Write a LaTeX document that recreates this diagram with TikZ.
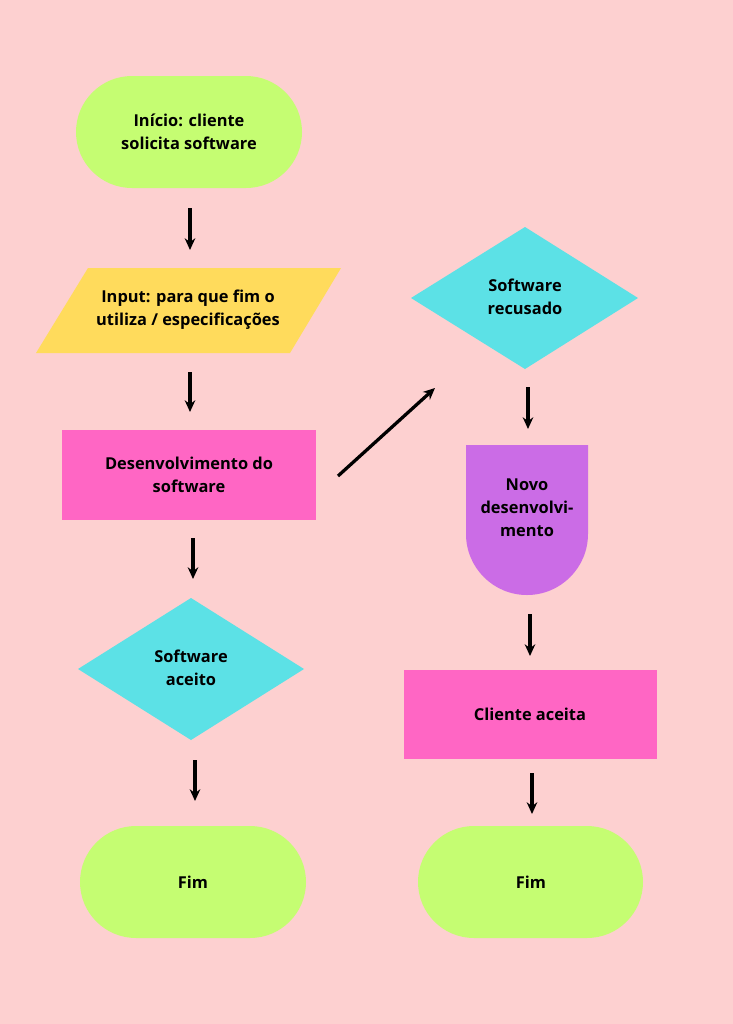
\documentclass[tikz,border=0pt]{standalone}
\usepackage{fontspec}
\setmainfont{Open Sans}
\usetikzlibrary{arrows.meta}
\begin{document}
\begin{tikzpicture}[x=0.03cm,y=-0.03cm,
  lbl/.style={font=\fontsize{14}{19.5}\selectfont\bfseries,align=center,text=black},
  arr/.style={-{Stealth[length=10pt,width=9pt]},line width=2.8pt}]
\definecolor{bg}{HTML}{FDD0D0}
\definecolor{grn}{HTML}{C5FD72}
\definecolor{yel}{HTML}{FFDB5C}
\definecolor{pnk}{HTML}{FF66C4}
\definecolor{cyn}{HTML}{5CE1E6}
\definecolor{prp}{HTML}{CB6CE6}
\fill[bg] (0,0) rectangle (733,1024);
\useasboundingbox (0,0) rectangle (733,1024);
% start
\fill[grn,rounded corners=1.68cm] (76,76) rectangle (302,188);
\node[lbl] (s) at (189,132) {Início: cliente\\solicita software};
% input
\fill[yel] (88,268) -- (341,268) -- (290,353) -- (36,353) -- cycle;
\node[lbl] (inp) at (188,310) {Input: para que fim o\\utiliza / especificações};
% dev
\fill[pnk] (62,430) rectangle (316,520);
\node[lbl] (dev) at (189,475) {Desenvolvimento do\\software};
% aceito
\fill[cyn] (78,669) -- (191,598) -- (304,669) -- (191,740) -- cycle;
\node[lbl] (ac) at (191,668) {Software\\aceito};
% fim1
\fill[grn,rounded corners=1.68cm] (80,826) rectangle (306,938);
\node[lbl] (f1) at (193,882) {Fim};
% recusado
\fill[cyn] (411,298) -- (525,227) -- (638,298) -- (525,369) -- cycle;
\node[lbl] (rec) at (525,297) {Software\\recusado};
% novo
\fill[prp] (466,445) -- (588,445) -- (588,534) arc[start angle=0,end angle=180,radius=61] -- cycle;
\node[lbl] (novo) at (527,508) {Novo\\desenvolvi-\\mento};
% cliente aceita
\fill[pnk] (404,670) rectangle (657,759);
\node[lbl] (cl) at (530,714) {Cliente aceita};
% fim2
\fill[grn,rounded corners=1.68cm] (418,826) rectangle (643,938);
\node[lbl] (f2) at (531,882) {Fim};
% arrows
\coordinate (a1) at (190,208); \coordinate (b1) at (190,250);
\coordinate (a2) at (190,372); \coordinate (b2) at (190,412);
\coordinate (a3) at (193,538); \coordinate (b3) at (193,579);
\coordinate (a4) at (195,760); \coordinate (b4) at (195,801);
\coordinate (a5) at (338,476); \coordinate (b5) at (435,388);
\coordinate (a6) at (528,387); \coordinate (b6) at (528,429);
\coordinate (a7) at (530,614); \coordinate (b7) at (530,656);
\coordinate (a8) at (532,773); \coordinate (b8) at (532,814);
\foreach \i in {1,...,8} \draw[arr] (a\i) -- (b\i);
\end{tikzpicture}
\end{document}
